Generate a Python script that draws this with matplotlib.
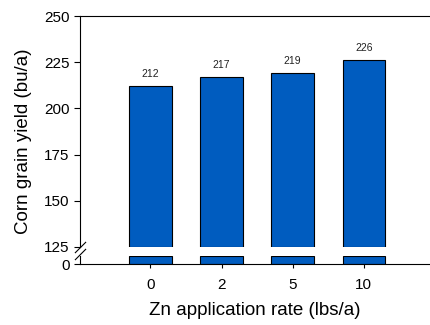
import matplotlib
matplotlib.use("Agg")
import matplotlib.pyplot as plt
import numpy as np

plt.rcParams['font.family'] = ['Liberation Sans', 'DejaVu Sans']

rates = ["0", "2", "5", "10"]
yields = [212, 217, 219, 226]

bar_color = "#005cbf"
x = np.arange(len(rates))
vals = np.array(yields, dtype=float)
low_top = 4.3
break_at = 125

fig = plt.figure(figsize=(4.3, 3.25), dpi=100)
ax = fig.add_axes([80/430, 1-247/325, 350/430, 231/325])
ax2 = fig.add_axes([80/430, 1-264/325, 350/430, 8/325])

# upper part
ax.bar(x, vals - break_at, bottom=break_at, width=0.6, color=bar_color,
       edgecolor="black", linewidth=0.8)
ax.set_ylim(break_at, 250)
ax.set_xlim(-0.99, 3.93)
ax.set_yticks([125, 150, 175, 200, 225, 250])
ax.spines["right"].set_visible(False)
ax.spines["bottom"].set_visible(False)
ax.set_xticks([])
ax.tick_params(axis="y", direction="out", length=4, labelsize=11)
for xi, v in zip(x, yields):
    ax.annotate(str(v), (xi, v), xytext=(0, 5), textcoords="offset points",
                ha="center", va="bottom", fontsize=7.5, color="#222222")

# lower part
ax2.bar(x, np.minimum(vals, low_top), width=0.6, color=bar_color,
        edgecolor="black", linewidth=0.8)
ax2.set_ylim(0, low_top)
ax2.set_xlim(-0.99, 3.93)
ax2.set_yticks([0])
ax2.set_xticks(x)
ax2.set_xticklabels(rates)
ax2.spines["right"].set_visible(False)
ax2.spines["top"].set_visible(False)
ax2.tick_params(axis="y", direction="out", length=4, labelsize=11)
ax2.tick_params(axis="x", direction="out", length=3, labelsize=11, pad=7)
ax2.set_xlabel("Zn application rate (lbs/a)", fontsize=13.5, labelpad=7)

# break marks
kw = dict(marker=[(-1, -1), (1, 1)], markersize=8, linestyle="none",
          color="black", mec="black", mew=0.8, clip_on=False)
ax.plot([0], [0], transform=ax.transAxes, **kw)
ax2.plot([0], [1.2], transform=ax2.transAxes, **kw)

fig.text(24/430, 1-141/325, "Corn grain yield (bu/a)", rotation=90,
         ha="center", va="center", fontsize=13.5)

fig.savefig("out.png", dpi=100)
